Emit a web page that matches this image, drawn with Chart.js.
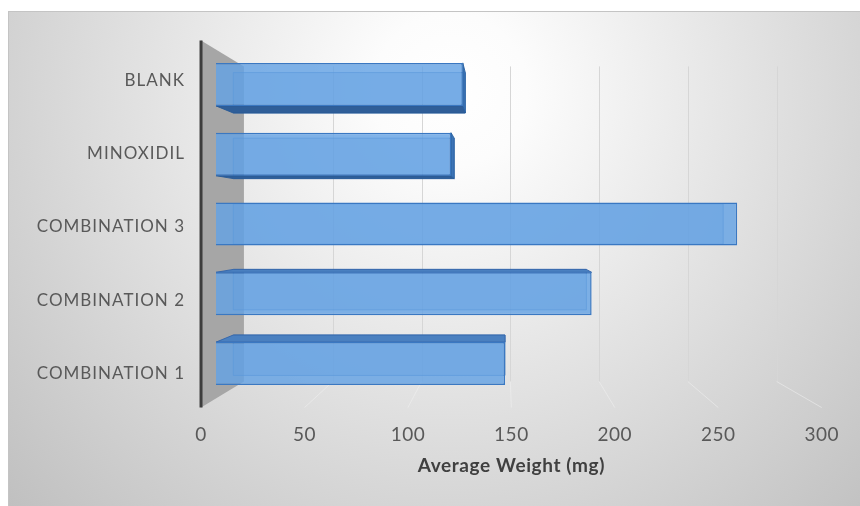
<!DOCTYPE html>
<html>
<head>
<meta charset="utf-8">
<script src="https://cdn.jsdelivr.net/npm/chart.js@4/dist/chart.umd.min.js"></script>
<style>
  html, body { margin: 0; padding: 0; background: #ffffff; }
  canvas { display: block; }
</style>
</head>
<body>
<canvas id="chart" width="860" height="506"></canvas>
<script>
// Categories, top to bottom
const categories = ['BLANK', 'MINOXIDIL', 'COMBINATION 3', 'COMBINATION 2', 'COMBINATION 1'];
// Average weight per group (mg)
const weights = [125.5, 119.5, 265, 191, 147];
// Value axis
const tickValues = [0, 50, 100, 150, 200, 250, 300];
const axisTitle = 'Average Weight (mg)';

// Perspective: the chart area is the bars' front plane; other planes are
// scaled towards a vanishing point by these ratios.
const DEPTH_FRONT = 1.052;   // floor front edge / tick labels
const DEPTH_BAR_BACK = 0.94; // back face of each bar
const DEPTH_WALL = 0.903;    // back wall (gridlines)

const LABEL_COLOR = '#595959';

function vanishing(chart) {
  const a = chart.chartArea;
  return { x: a.left + (a.right - a.left) * 0.488, y: (a.top + a.bottom) / 2 };
}
function project(vp, x, y, r) {
  return [vp.x + (x - vp.x) * r, vp.y + (y - vp.y) * r];
}
function poly(ctx, pts, fill, stroke) {
  ctx.beginPath();
  ctx.moveTo(pts[0][0], pts[0][1]);
  for (let i = 1; i < pts.length; i++) ctx.lineTo(pts[i][0], pts[i][1]);
  ctx.closePath();
  if (fill) { ctx.fillStyle = fill; ctx.fill(); }
  if (stroke) { ctx.strokeStyle = stroke; ctx.stroke(); }
}

const depthPlugin = {
  id: 'depth3d',
  beforeDraw(chart) {
    const ctx = chart.ctx;
    ctx.save();
    ctx.fillStyle = '#ffffff';
    ctx.fillRect(0, 0, chart.width, chart.height);
    const g = ctx.createRadialGradient(450, 90, 0, 450, 90, 640);
    g.addColorStop(0, '#ffffff');
    g.addColorStop(0.12, '#fcfcfc');
    g.addColorStop(1, '#bcbcbc');
    ctx.fillStyle = g;
    ctx.fillRect(8, 11, chart.width - 8, chart.height - 11);
    ctx.strokeStyle = '#c4c4c4';
    ctx.lineWidth = 1;
    ctx.strokeRect(8.5, 11.5, chart.width, chart.height);
    ctx.restore();
  },
  beforeDatasetsDraw(chart) {
    const ctx = chart.ctx;
    const a = chart.chartArea;
    const xs = chart.scales.x;
    const vp = vanishing(chart);
    const x0 = xs.getPixelForValue(0);
    ctx.save();

    // side wall at value 0
    const wall = [
      project(vp, x0, a.top, DEPTH_FRONT),
      project(vp, x0, a.top, DEPTH_WALL),
      project(vp, x0, a.bottom, DEPTH_WALL),
      project(vp, x0, a.bottom, DEPTH_FRONT)
    ];
    poly(ctx, wall, '#a6a6a6');

    // back gridlines and floor lines
    ctx.lineWidth = 1;
    tickValues.forEach(v => {
      if (v === 0) return;
      const px = xs.getPixelForValue(v);
      const bt = project(vp, px, a.top, DEPTH_WALL);
      const bb = project(vp, px, a.bottom, DEPTH_WALL);
      const fb = project(vp, px, a.bottom, DEPTH_FRONT);
      ctx.strokeStyle = '#d6d6d6';
      ctx.beginPath();
      ctx.moveTo(Math.round(bt[0]) + 0.5, bt[1]);
      ctx.lineTo(Math.round(bb[0]) + 0.5, bb[1]);
      ctx.stroke();
      ctx.strokeStyle = 'rgba(240,240,240,0.55)';
      ctx.beginPath();
      ctx.moveTo(bb[0], bb[1]);
      ctx.lineTo(fb[0], fb[1]);
      ctx.stroke();
    });

    // wall front edge
    ctx.strokeStyle = '#3d3d3d';
    ctx.lineWidth = 3;
    ctx.beginPath();
    ctx.moveTo(wall[0][0], wall[0][1]);
    ctx.lineTo(wall[3][0], wall[3][1]);
    ctx.stroke();

    // depth faces of each bar
    const meta = chart.getDatasetMeta(0);
    ctx.lineWidth = 1;
    meta.data.forEach(bar => {
      const p = bar.getProps(['x', 'y', 'base', 'height'], true);
      const L = p.base, R = p.x, T = p.y - p.height / 2, B = p.y + p.height / 2;
      const F = (x, y) => [x, y];
      const K = (x, y) => project(vp, x, y, DEPTH_BAR_BACK);
      // back face
      poly(ctx, [K(L, T), K(R, T), K(R, B), K(L, B)], 'rgba(70,130,200,0.3)', 'rgba(40,100,175,0.6)');
      if (B < vp.y) {
        poly(ctx, [F(L, B), F(R, B), K(R, B), K(L, B)], '#2f5e98', 'rgba(40,90,150,0.9)');
      }
      if (T > vp.y) {
        poly(ctx, [F(L, T), F(R, T), K(R, T), K(L, T)], '#4a80c0', 'rgba(50,100,170,0.9)');
      }
      if (R < vp.x) {
        poly(ctx, [F(R, T), F(R, B), K(R, B), K(R, T)], '#3c74b6', 'rgba(40,95,160,0.9)');
      }
    });
    ctx.restore();
  },
  afterDraw(chart) {
    const ctx = chart.ctx;
    const a = chart.chartArea;
    const xs = chart.scales.x, ys = chart.scales.y;
    const vp = vanishing(chart);
    ctx.save();
    ctx.fillStyle = LABEL_COLOR;

    // category labels on the front plane
    ctx.font = '17px Lato';
    ctx.letterSpacing = '1px';
    ctx.textAlign = 'right';
    ctx.textBaseline = 'middle';
    categories.forEach((c, i) => {
      const yc = ys.getPixelForValue(i);
      const pt = project(vp, a.left, yc, DEPTH_FRONT);
      ctx.fillText(c, 185, pt[1] + 3);
    });

    // value tick labels along the floor front edge
    ctx.font = '19px Lato';
    ctx.letterSpacing = '0.5px';
    ctx.textAlign = 'center';
    tickValues.forEach(v => {
      const pt = project(vp, xs.getPixelForValue(v), a.bottom, DEPTH_FRONT);
      ctx.fillText(String(v), pt[0], 435);
    });

    // axis title
    const mid = project(vp, (xs.getPixelForValue(0) + xs.getPixelForValue(300)) / 2, a.bottom, DEPTH_FRONT);
    ctx.font = 'bold 19px Lato';
    ctx.letterSpacing = '0.6px';
    ctx.fillStyle = '#404040';
    ctx.fillText(axisTitle, mid[0], 466);
    ctx.restore();
  }
};

new Chart(document.getElementById('chart'), {
  type: 'bar',
  data: {
    labels: categories,
    datasets: [{
      data: weights,
      backgroundColor: 'rgba(100,162,228,0.82)',
      borderColor: '#3a78c2',
      borderWidth: 1.5,
      categoryPercentage: 1,
      barPercentage: 0.616
    }]
  },
  options: {
    indexAxis: 'y',
    responsive: false,
    animation: false,
    devicePixelRatio: 1,
    layout: { padding: { left: 216, right: 54, top: 49.5, bottom: 107.5 } },
    scales: {
      x: { display: false, min: 0, max: 300 },
      y: { display: false }
    },
    plugins: { legend: { display: false }, tooltip: { enabled: false } }
  },
  plugins: [depthPlugin]
});
</script>
</body>
</html>
